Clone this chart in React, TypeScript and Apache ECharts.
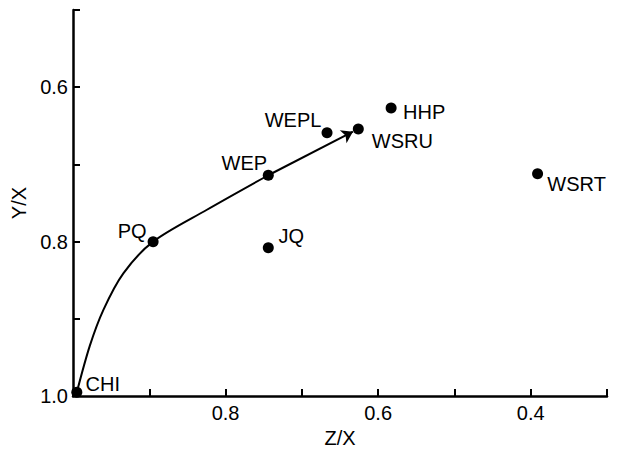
import React, { useEffect, useRef } from "react";
import * as echarts from "echarts";

// Station points (Z/X, Y/X)
const pointNames = ["CHI", "PQ", "JQ", "WEP", "WEPL", "WSRU", "HHP", "WSRT"];
const pointZX = [0.995, 0.895, 0.744, 0.744, 0.667, 0.626, 0.583, 0.391];
const pointYX = [0.995, 0.8, 0.808, 0.714, 0.659, 0.654, 0.627, 0.712];

// Trend curve (CHI -> PQ -> WEP)
const curveZX = [0.995, 0.978, 0.96, 0.934, 0.895, 0.825, 0.744];
const curveYX = [0.995, 0.935, 0.888, 0.841, 0.8, 0.759, 0.714];

// Arrow segment: WEP -> WSRU
const arrowFrom = "WEP";
const arrowTo = "WSRU";

const xTickLabels = ["0.8", "0.6", "0.4"];
const yTickLabels = ["0.6", "0.8", "1.0"];

// label offsets (text centre relative to dot centre)
const labelOffsets: Record<string, [number, number]> = {
  CHI: [26, -8],
  PQ: [-21, -11],
  JQ: [23, -12],
  WEP: [-24, -12],
  WEPL: [-34, -13],
  WSRU: [44, 12],
  HHP: [33, 4],
  WSRT: [39, 10],
};

const FONT = "Liberation Sans";
const FS = 20;

export default function App() {
  const ref = useRef<HTMLDivElement>(null);
  useEffect(() => {
    if (!ref.current) return;
    const chart = echarts.init(ref.current, undefined, { renderer: "svg" });
    const iFrom = pointNames.indexOf(arrowFrom);
    const iTo = pointNames.indexOf(arrowTo);
    const t = 0.94;
    const endX = pointZX[iFrom] + (pointZX[iTo] - pointZX[iFrom]) * t;
    const endY = pointYX[iFrom] + (pointYX[iTo] - pointYX[iFrom]) * t;
    const fmt = (v: number) => (Math.round(v * 10) / 10).toFixed(1);
    chart.setOption({
      animation: false,
      grid: { left: 73, right: 12, top: 10, bottom: 50 },
      xAxis: {
        type: "value",
        inverse: true,
        min: 0.3,
        max: 1.0,
        interval: 0.1,
        name: "Z/X",
        nameLocation: "middle",
        nameGap: 27,
        nameTextStyle: { color: "#000", fontSize: FS, fontFamily: FONT },
        axisLine: { show: true, onZero: false, lineStyle: { color: "#000", width: 2.5 } },
        axisTick: { show: true, inside: true, length: 7, lineStyle: { color: "#000", width: 2 } },
        axisLabel: {
          color: "#000",
          fontSize: FS,
          fontFamily: FONT,
          margin: 7,
          formatter: (v: number) => (xTickLabels.includes(fmt(v)) ? fmt(v) : ""),
        },
        splitLine: { show: false },
      },
      yAxis: {
        type: "value",
        inverse: true,
        min: 0.5,
        max: 1.0,
        interval: 0.1,
        name: "Y/X",
        nameLocation: "middle",
        nameRotate: 90,
        nameGap: 42,
        nameTextStyle: { color: "#000", fontSize: FS, fontFamily: FONT },
        axisLine: { show: true, onZero: false, lineStyle: { color: "#000", width: 2.5 } },
        axisTick: { show: true, inside: true, length: 7, lineStyle: { color: "#000", width: 2 } },
        axisLabel: {
          color: "#000",
          fontSize: FS,
          fontFamily: FONT,
          margin: 5,
          formatter: (v: number) => (yTickLabels.includes(fmt(v)) ? fmt(v) : ""),
        },
        splitLine: { show: false },
      },
      series: [
        {
          type: "line",
          data: curveZX.map((z, i) => [z, curveYX[i]]),
          smooth: 0.3,
          symbol: "none",
          lineStyle: { color: "#000", width: 2 },
          z: 2,
        },
        {
          type: "lines",
          coordinateSystem: "cartesian2d",
          symbol: ["none", "arrow"],
          symbolSize: [0, 11],
          lineStyle: { color: "#000", width: 2, opacity: 1 },
          data: [{ coords: [[pointZX[iFrom], pointYX[iFrom]], [endX, endY]] }],
          z: 2,
        },
        {
          type: "scatter",
          symbol: "circle",
          symbolSize: 11,
          itemStyle: { color: "#000", opacity: 1 },
          z: 3,
          data: pointNames.map((n, i) => ({
            name: n,
            value: [pointZX[i], pointYX[i]],
            label: {
              show: true,
              position: "inside",
              offset: labelOffsets[n],
              formatter: n,
              color: "#000",
              fontSize: FS,
              fontFamily: FONT,
            },
          })),
        },
      ],
    });
    return () => chart.dispose();
  }, []);
  return (
    <div
      ref={ref}
      style={{ position: "fixed", left: 0, top: 0, width: 619, height: 453, background: "#fff" }}
    />
  );
}
